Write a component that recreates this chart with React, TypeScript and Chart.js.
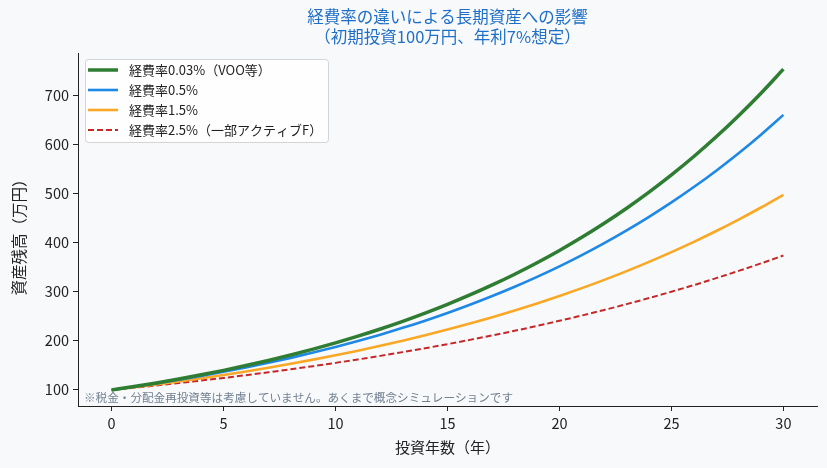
import React, { useEffect, useRef } from "react";
import { Chart, registerables } from "chart.js";

Chart.register(...registerables);

const years = [0,1,2,3,4,5,6,7,8,9,10,11,12,13,14,15,16,17,18,19,20,21,22,23,24,25,26,27,28,29,30];
const fee003 = [100,106.97,114.43,122.40,130.93,140.06,149.82,160.26,171.43,183.38,196.16,209.83,224.46,240.10,256.83,274.73,293.88,314.36,336.27,359.71,384.78,411.60,440.29,470.98,503.81,538.93,576.49,616.67,659.65,705.63,754.81];
const fee05 = [100,106.5,113.42,120.79,128.65,137.01,145.91,155.40,165.50,176.26,187.71,199.92,212.91,226.75,241.49,257.18,273.90,291.70,310.66,330.86,352.36,375.27,399.66,425.64,453.30,482.77,514.15,547.57,583.16,621.07,661.44];
const fee15 = [100,105.5,111.30,117.42,123.88,130.70,137.88,145.47,153.47,161.91,170.81,180.21,190.12,200.58,211.61,223.25,235.53,248.48,262.15,276.56,291.78,307.82,324.75,342.61,361.46,381.33,402.31,424.43,447.78,472.41,498.39];
const fee25 = [100,104.5,109.20,114.12,119.25,124.62,130.23,136.09,142.21,148.61,155.30,162.29,169.59,177.22,185.20,193.54,202.24,211.34,220.86,230.79,241.17,252.02,263.36,275.22,287.60,300.53,314.06,328.19,342.96,358.40,374.53];
const seriesLabels = ["経費率0.03%（VOO等）", "経費率0.5%", "経費率1.5%", "経費率2.5%（一部アクティブF）"];
const xTicks = [0,5,10,15,20,25,30];
const yTicks = [100,200,300,400,500,600,700];
const titleLines = ["経費率の違いによる長期資産への影響", "（初期投資100万円、年利7%想定）"];
const xTitle = "投資年数（年）";
const yTitle = "資産残高（万円）";
const footnote = "※税金・分配金再投資等は考慮していません。あくまで概念シミュレーションです";

const FONT = '"Noto Sans CJK JP", "Noto Sans", sans-serif';
const BG = "#f8f9fb";

export default function App() {
  const ref = useRef<HTMLCanvasElement>(null);
  useEffect(() => {
    const toPts = (arr: number[]) => arr.map((v, i) => ({ x: years[i], y: v }));
    const bgPlugin = {
      id: "bg",
      beforeDraw(chart: any) {
        const c = chart.ctx;
        c.save();
        c.fillStyle = BG;
        c.fillRect(0, 0, chart.width, chart.height);
        c.restore();
      },
      afterDraw(chart: any) {
        const c = chart.ctx;
        const a = chart.chartArea;
        c.save();
        const cx = (a.left + a.right) / 2;
        // title
        c.fillStyle = "#1f6fc8";
        c.font = `16.5px ${FONT}`;
        c.textAlign = "center";
        c.textBaseline = "middle";
        c.fillText(titleLines[0], cx, 17);
        c.fillText(titleLines[1], cx, 37);
        // axis titles
        c.fillStyle = "#222";
        c.font = `15px ${FONT}`;
        c.fillText(xTitle, cx, 447);
        c.save();
        c.translate(19, (a.top + a.bottom) / 2 + 4);
        c.rotate(-Math.PI / 2);
        c.font = `15.5px ${FONT}`;
        c.fillText(yTitle, 0, 0);
        c.restore();
        // footnote
        c.fillStyle = "#708090";
        c.font = `11.6px ${FONT}`;
        c.textAlign = "left";
        c.textBaseline = "middle";
        c.fillText(footnote, a.left + 6, 398);
        // legend
        const lx = 85, ly = 59, lw = 243, lh = 83;
        c.fillStyle = "rgba(255,255,255,0.85)";
        c.strokeStyle = "#d4d4d4";
        c.lineWidth = 1;
        c.beginPath();
        (c as any).roundRect(lx + 0.5, ly + 0.5, lw, lh, 3);
        c.fill();
        c.stroke();
        c.font = `13px ${FONT}`;
        c.textBaseline = "middle";
        chart.data.datasets.forEach((ds: any, i: number) => {
          const y = 70 + i * 20;
          c.strokeStyle = ds.borderColor;
          c.lineWidth = ds.borderWidth;
          c.setLineDash(ds.borderDash || []);
          c.beginPath();
          c.moveTo(88, y);
          c.lineTo(118, y);
          c.stroke();
          c.setLineDash([]);
          c.fillStyle = "#222";
          c.fillText(ds.label, 129, y + 0.5);
        });
        c.restore();
      },
    };
    const chart = new Chart(ref.current!, {
      type: "line",
      data: {
        datasets: [
          { label: seriesLabels[0], data: toPts(fee003), borderColor: "#2e7d32", borderWidth: 3.5 },
          { label: seriesLabels[1], data: toPts(fee05), borderColor: "#1e88e5", borderWidth: 2.6 },
          { label: seriesLabels[2], data: toPts(fee15), borderColor: "#f9a825", borderWidth: 2.6 },
          { label: seriesLabels[3], data: toPts(fee25), borderColor: "#c62828", borderWidth: 2, borderDash: [6, 3] },
        ] as any,
      },
      options: {
        animation: false,
        responsive: false,
        maintainAspectRatio: false,
        layout: { padding: { top: 53, right: 10, left: 0, bottom: 0 } },
        elements: { point: { radius: 0 }, line: { cubicInterpolationMode: "monotone", fill: false } },
        plugins: { legend: { display: false }, title: { display: false }, tooltip: { enabled: false } },
        scales: {
          x: {
            type: "linear",
            min: -1.5,
            max: 31.5,
            afterBuildTicks: (s: any) => { s.ticks = xTicks.map((v) => ({ value: v })); },
            afterFit: (s: any) => { s.height = 62; },
            grid: { drawOnChartArea: false, tickLength: 5, color: "#222", tickWidth: 1 },
            border: { display: true, color: "#222", width: 1 },
            ticks: { color: "#222", font: { family: FONT, size: 14.5 }, padding: 4, maxRotation: 0 },
          },
          y: {
            type: "linear",
            min: 67.3,
            max: 787.7,
            afterBuildTicks: (s: any) => { s.ticks = yTicks.map((v) => ({ value: v })); },
            afterFit: (s: any) => { s.width = 78; },
            grid: { drawOnChartArea: false, tickLength: 5, color: "#222", tickWidth: 1 },
            border: { display: true, color: "#222", width: 1 },
            ticks: { color: "#222", font: { family: FONT, size: 14.5 }, padding: 4 },
          },
        },
      } as any,
      plugins: [bgPlugin],
    });
    return () => chart.destroy();
  }, []);
  return (
    <div style={{ position: "fixed", left: 0, top: 0, width: 827, height: 468, background: BG }}>
      <canvas ref={ref} width={827} height={468} style={{ width: 827, height: 468, display: "block" }} />
    </div>
  );
}
